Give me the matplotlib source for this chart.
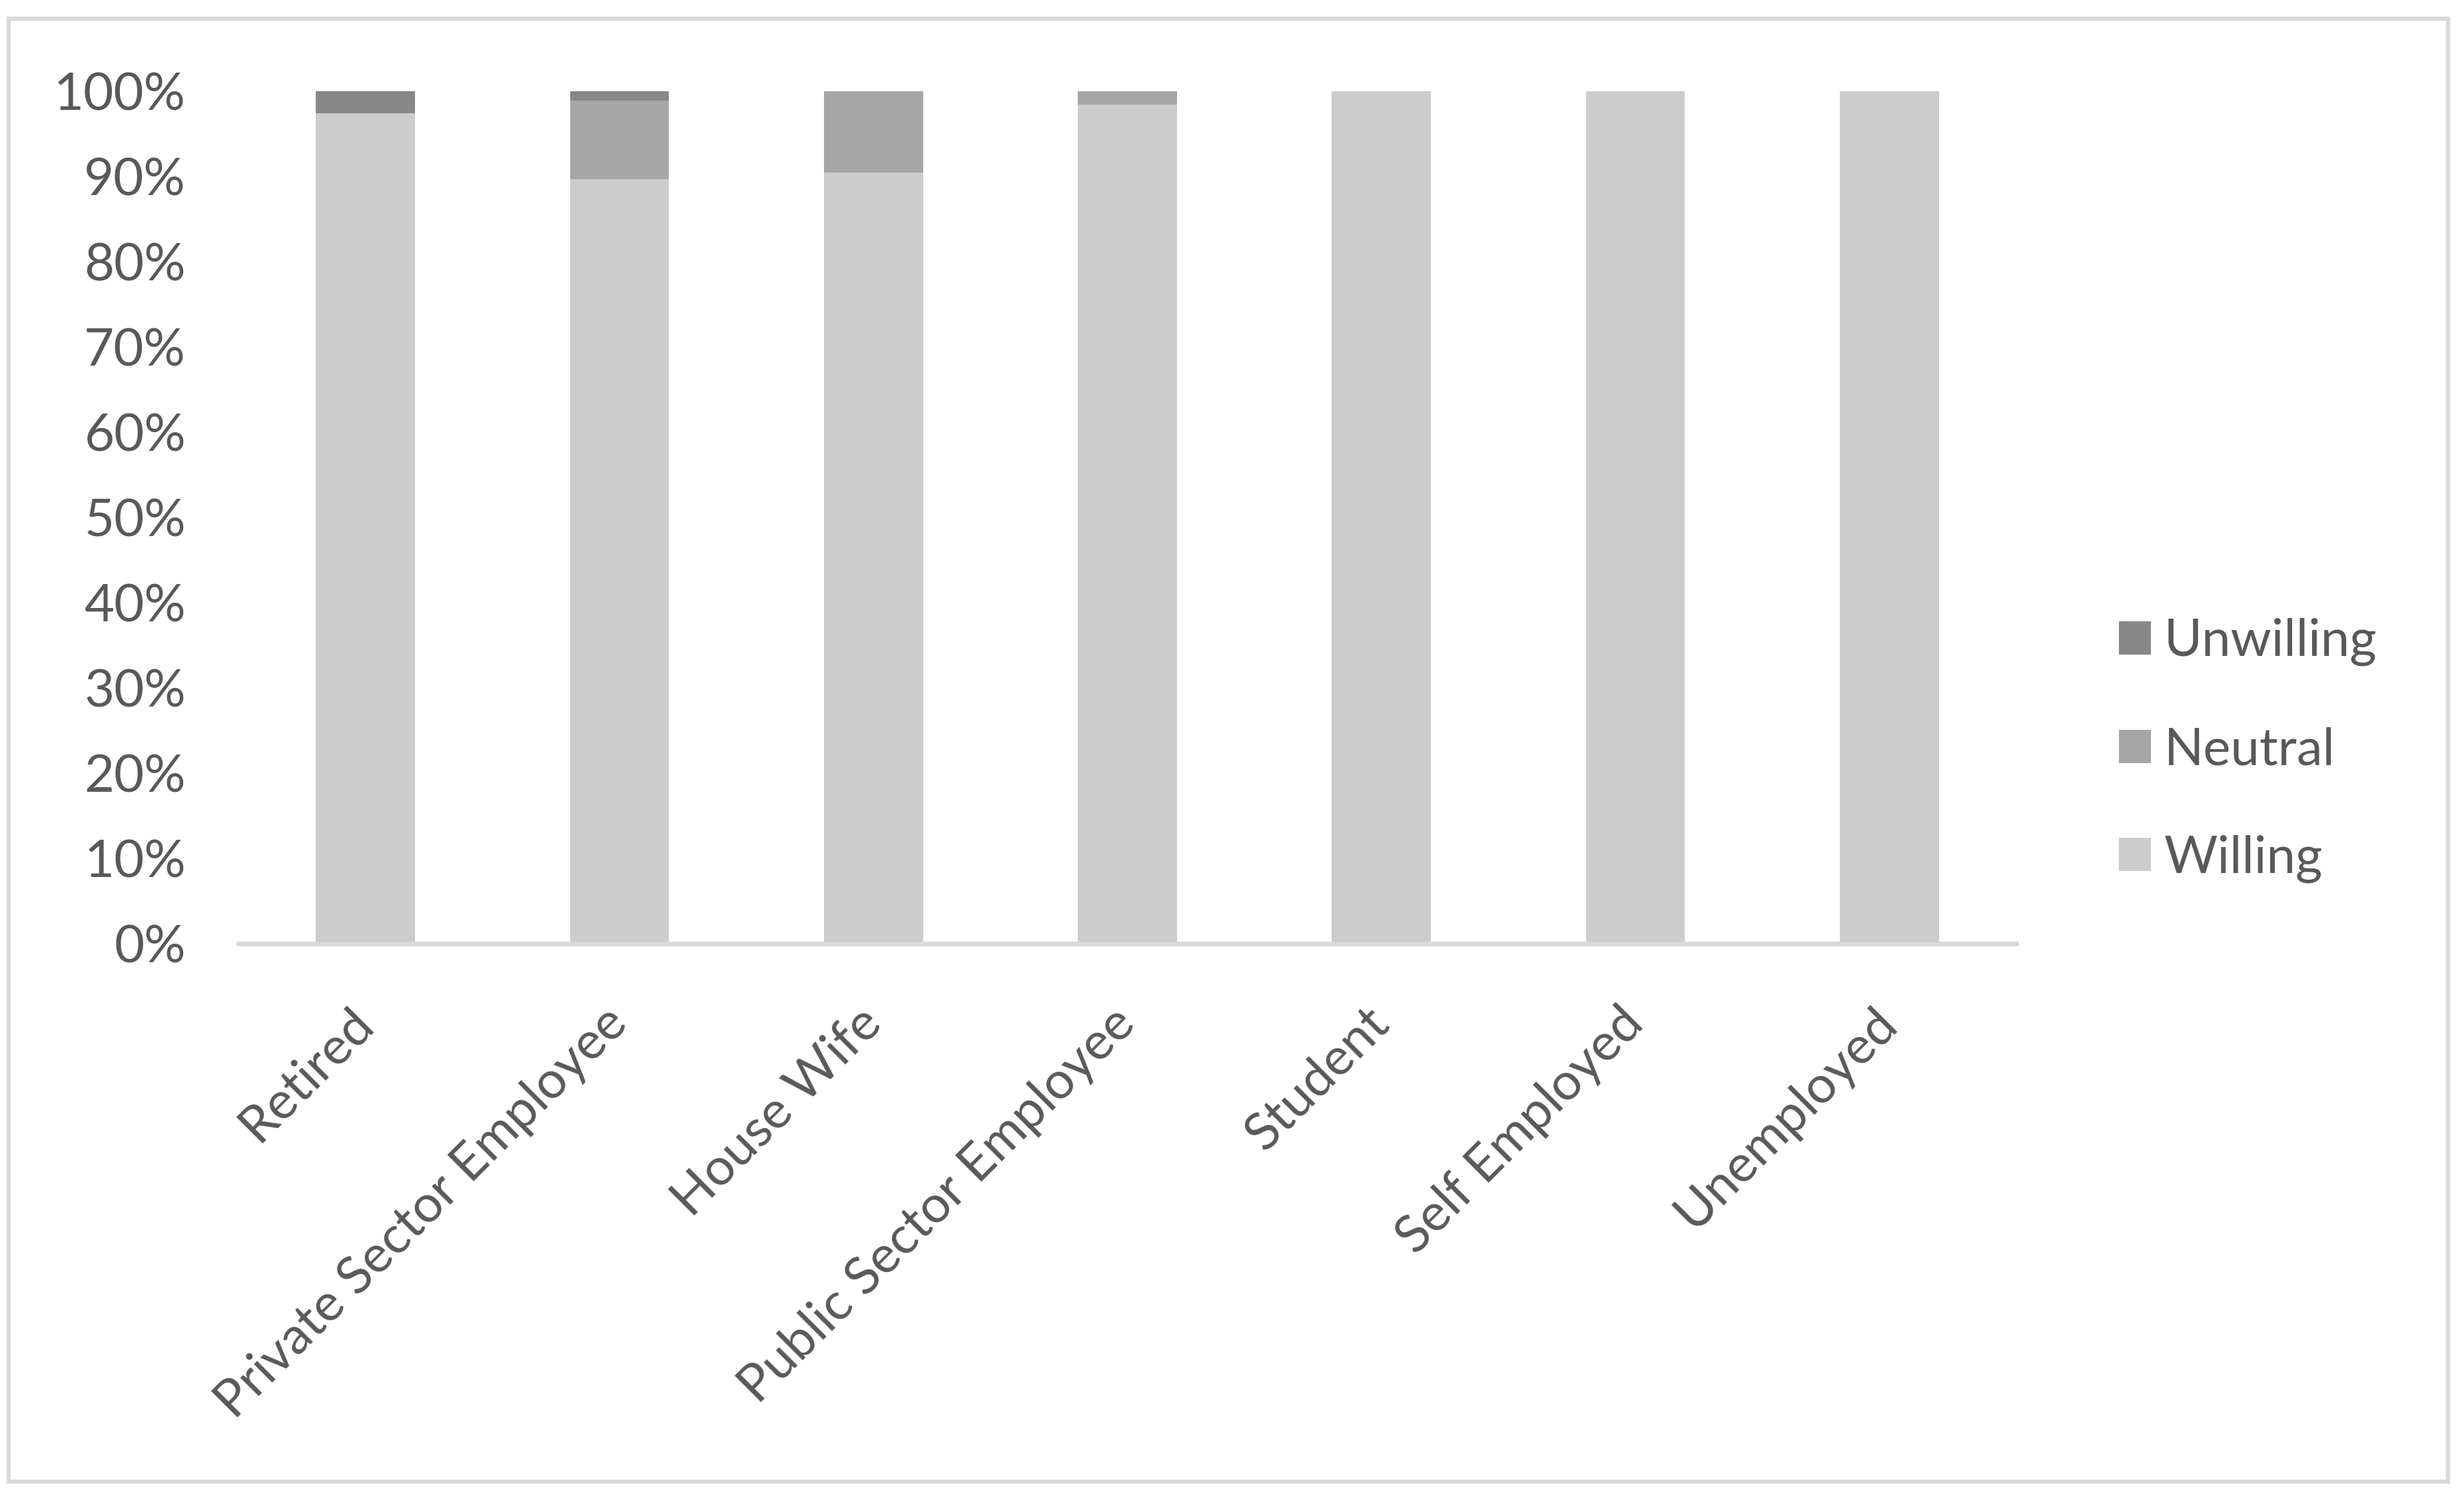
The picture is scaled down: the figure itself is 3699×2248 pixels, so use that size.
import matplotlib
matplotlib.use('Agg')
import matplotlib.pyplot as plt
from matplotlib.patches import Rectangle
import numpy as np

# occupation categories and share of answers (fractions of 1)
categories = ['Retired', 'Private Sector Employee', 'House Wife',
              'Public Sector Employee', 'Student', 'Self Employed', 'Unemployed']
willing = [0.974, 0.897, 0.905, 0.984, 1.0, 1.0, 1.0]
neutral = [0.0, 0.092, 0.095, 0.016, 0.0, 0.0, 0.0]
unwilling = [0.026, 0.011, 0.0, 0.0, 0.0, 0.0, 0.0]
y_ticks = [0.0, 0.1, 0.2, 0.3, 0.4, 0.5, 0.6, 0.7, 0.8, 0.9, 1.0]
y_labels = ['0%', '10%', '20%', '30%', '40%', '50%', '60%', '70%', '80%', '90%', '100%']

text_color = '#595959'
plt.rcParams['font.family'] = ['Lato', 'DejaVu Sans']

fig = plt.figure(figsize=(36.99, 22.48), dpi=100)
ax = fig.add_axes([0.0968, 0.3697, 0.8183 - 0.0968, 0.9391 - 0.3697])

x = np.arange(len(categories))
w = 0.39
b1 = ax.bar(x, willing, w, color='#cccccc', label='Willing')
b2 = ax.bar(x, neutral, w, bottom=willing, color='#a6a6a6', label='Neutral')
bottom2 = [a + b for a, b in zip(willing, neutral)]
b3 = ax.bar(x, unwilling, w, bottom=bottom2, color='#878787', label='Unwilling')

ax.set_xlim(-0.5, len(categories) - 0.5)
ax.set_ylim(0, 1)
ax.set_yticks(y_ticks)
ax.set_yticklabels(y_labels)
ax.set_xticks(x)
ax.set_xticklabels(categories)

for s in ['top', 'right', 'left']:
    ax.spines[s].set_visible(False)
ax.spines['bottom'].set_color('#d9d9d9')
ax.spines['bottom'].set_linewidth(5)

ax.tick_params(axis='y', length=0, pad=57, labelsize=56, labelcolor=text_color)
ax.tick_params(axis='x', length=0, pad=78, labelsize=56, labelcolor=text_color)
plt.setp(ax.get_xticklabels(), rotation=45, ha='right', va='center',
         rotation_mode='anchor')

leg = fig.legend(handles=[b3, b2, b1], loc='center left',
                 bbox_to_anchor=(3150 / 3699, 1 - 1127 / 2248),
                 frameon=False, fontsize=56, labelcolor=text_color,
                 handlelength=0.62, handleheight=0.62, handletextpad=0.25,
                 labelspacing=1.17, borderaxespad=0)

# chart area border
fig.patches.append(Rectangle((13 / 3699, 1 - 2225 / 2248), (3675 - 13) / 3699,
                             (2225 - 28) / 2248, transform=fig.transFigure,
                             fill=False, edgecolor='#d9d9d9', linewidth=4.5))

plt.savefig('out.png', dpi=100, facecolor='white')
plt.close(fig)
